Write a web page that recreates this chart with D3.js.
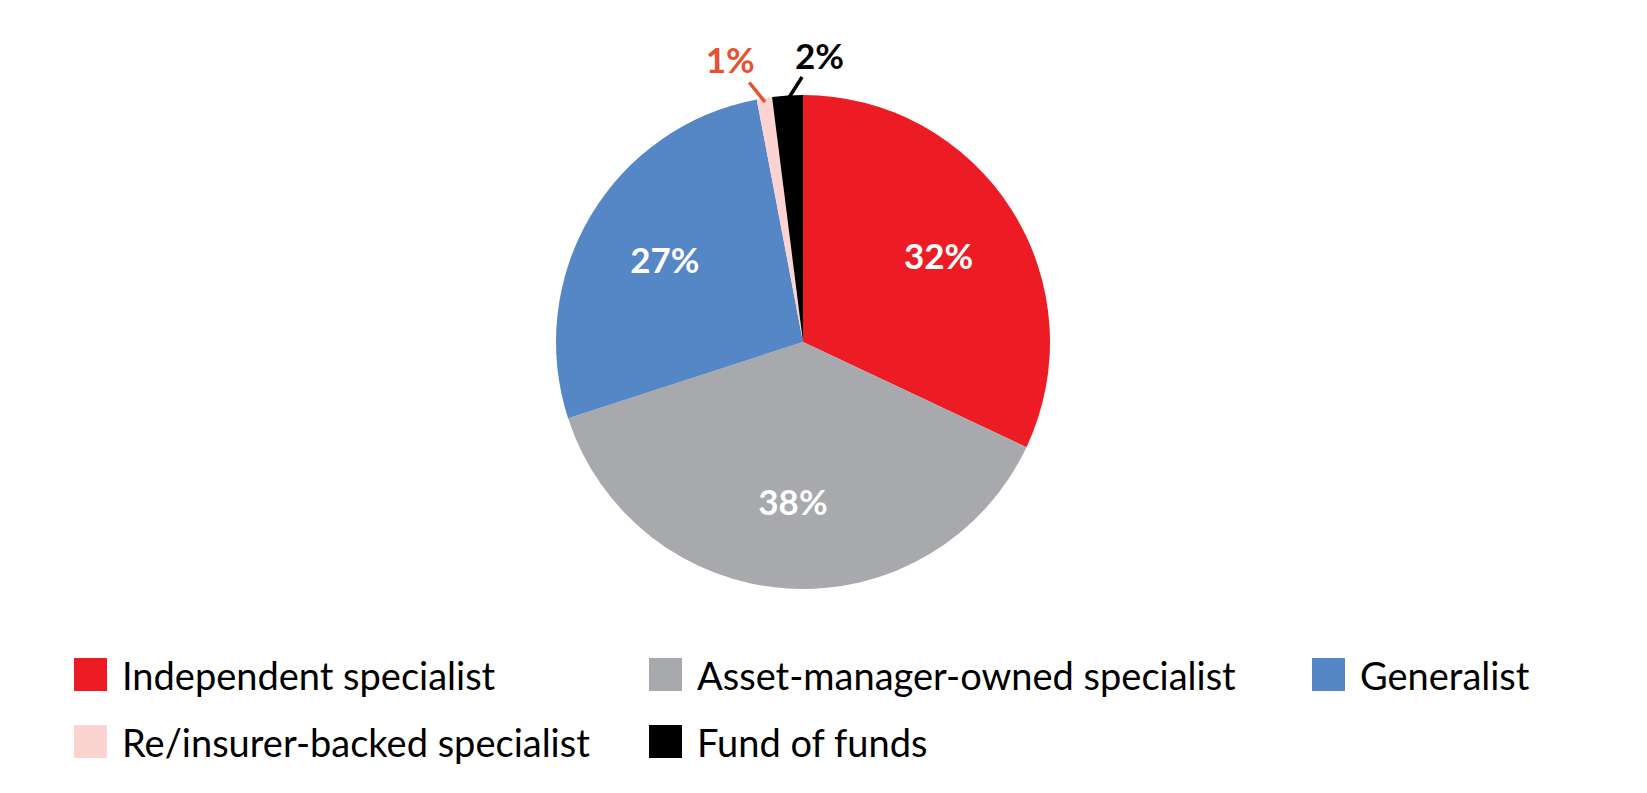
<!DOCTYPE html>
<html>
<head>
<meta charset="utf-8">
<script src="https://cdn.jsdelivr.net/npm/d3@7"></script>
<style>
  body { margin: 0; background: #fff; }
  svg { display: block; }
</style>
</head>
<body>
<svg width="1647" height="793"></svg>
<script>
// chart data
const categories = ["Independent specialist", "Asset-manager-owned specialist", "Generalist", "Re/insurer-backed specialist", "Fund of funds"];
const shares = [32, 38, 27, 1, 2];
const labels = ["32%", "38%", "27%", "1%", "2%"];
const colors = ["#ed1c24", "#a7a9ac", "#5586c6", "#fbd3d1", "#000000"];

const svg = d3.select("svg");
const cx = 803, cy = 342, radius = 247;

const pie = d3.pie().sort(null).value(d => d);
const arcs = pie(shares);
const arc = d3.arc().innerRadius(0).outerRadius(radius);
const labelArc = d3.arc().innerRadius(radius * 0.65).outerRadius(radius * 0.65);

const g = svg.append("g").attr("transform", `translate(${cx},${cy})`);

g.selectAll(".slice")
    .data(arcs)
    .enter()
    .append("path")
    .attr("class", "slice")
    .attr("d", arc)
    .attr("fill", (d, i) => colors[i]);

// big slices get labels inside
const inside = arcs.filter(d => d.data >= 5);
g.selectAll(".in-label")
    .data(inside)
    .enter()
    .append("text")
    .attr("class", "in-label")
    .attr("transform", d => `translate(${labelArc.centroid(d)})`)
    .attr("text-anchor", "middle")
    .attr("dy", "0.36em")
    .attr("fill", "#fff")
    .attr("font-family", "Lato, sans-serif")
    .attr("font-weight", "bold")
    .attr("font-size", "35px")
    .text(d => labels[d.index]);

// small slices: leader line + outside label
// angle shift (deg) of leader end and label, relative to the slice middle
const outside = arcs.filter(d => d.data < 5);
const lineShift = { 3: -2.7, 4: 3.4 };
const labelPos = { 3: { a: -14.5, r: 291 }, 4: { a: 3.3, r: 286 } };
const labelColor = { 3: "#e8502f", 4: "#000" };

function polar(angleRad, r) {
    return [Math.sin(angleRad) * r, -Math.cos(angleRad) * r];
}

outside.forEach(d => {
    const mid = (d.startAngle + d.endAngle) / 2;
    const p1 = polar(mid, radius - 4);
    const p2 = polar(mid + lineShift[d.index] * Math.PI / 180, radius + 18);
    g.append("line")
        .attr("x1", p1[0]).attr("y1", p1[1])
        .attr("x2", p2[0]).attr("y2", p2[1])
        .attr("stroke", labelColor[d.index])
        .attr("stroke-width", 3.5);

    const lp = polar(labelPos[d.index].a * Math.PI / 180, labelPos[d.index].r);
    g.append("text")
        .attr("x", lp[0]).attr("y", lp[1])
        .attr("text-anchor", "middle")
        .attr("dy", "0.36em")
        .attr("fill", labelColor[d.index])
        .attr("font-family", "Lato, sans-serif")
        .attr("font-weight", "bold")
        .attr("font-size", "35px")
        .text(labels[d.index]);
});

// legend, two rows
const legendX = [74, 649, 1312];
const legendY = [690, 757];
const legend = svg.append("g");

categories.forEach((c, i) => {
    const x = legendX[i % 3];
    const y = legendY[Math.floor(i / 3)];
    legend.append("rect")
        .attr("x", x)
        .attr("y", y - 32)
        .attr("width", 33)
        .attr("height", 33)
        .attr("fill", colors[i]);
    legend.append("text")
        .attr("x", x + 48)
        .attr("y", y)
        .attr("font-family", "Lato, sans-serif")
        .attr("font-size", "38px")
        .attr("fill", "#000")
        .text(c);
});
</script>
</body>
</html>
